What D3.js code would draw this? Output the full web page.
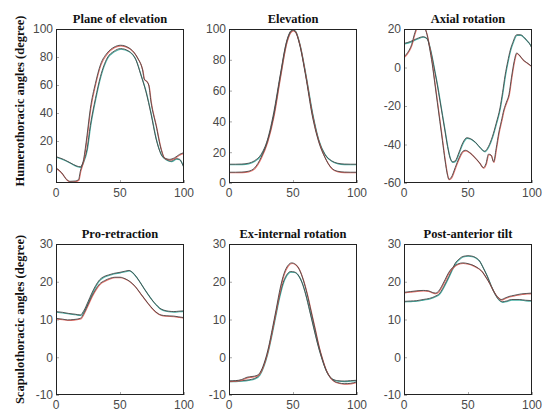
<!DOCTYPE html>
<html>
<head>
<meta charset="utf-8">
<script src="https://cdn.jsdelivr.net/npm/d3@7"></script>
<style>
  body { margin: 0; background: #fff; }
  .tick-label { font-family: "Liberation Sans", Arial, sans-serif; font-size: 12px; fill: #4a4a4a; }
  .panel-title, .row-label { font-family: "Liberation Serif", "Times New Roman", serif; font-weight: bold; fill: #111; }
</style>
</head>
<body>
<svg id="fig" width="543" height="416"></svg>
<script>
// Joint angles over the movement cycle: [percent of cycle, angle in degrees]

const titles = ["Plane of elevation", "Elevation", "Axial rotation",
                "Pro-retraction", "Ex-internal rotation", "Post-anterior tilt"];
const rowLabels = ["Humerothoracic angles (degree)", "Scapulothoracic angles (degree)"];
const xTicks = [0, 50, 100];
const yDomains = [[-10, 100], [0, 100], [-60, 20], [-10, 30], [-10, 30], [-10, 30]];
const yTicks = [[0, 20, 40, 60, 80, 100], [0, 20, 40, 60, 80, 100], [-60, -40, -20, 0, 20],
                [-10, 0, 10, 20, 30], [-10, 0, 10, 20, 30], [-10, 0, 10, 20, 30]];

// Humerothoracic
const planeRed = [[0,0.8],[4.5,-2.8],[8.4,-7.6],[11,-8.8],[15,-8.6],[17.6,-7.6],[19,-1.6],[21.6,6.9],[24.2,23.8],
  [26.8,43],[30.8,61.2],[34.7,74.4],[40,82.9],[45.3,87],[50.5,88.4],[57,86.5],[63.7,79.3],[67.6,70.8],[69,64],
  [70.5,63],[72.4,60],[74.2,47.9],[78.2,31],[82.1,14.1],[84.7,8],[88.7,6.9],[92.6,8],[96.6,10.5],[100,11.7]];
const planeGreen = [[0,8.8],[5.8,6.9],[11,4.5],[16.3,2.1],[19,1.6],[21.6,5.7],[24.2,14.1],[26.8,31],[30.8,50.3],
  [34.7,66],[40,79.3],[45.3,84.1],[50.5,86],[57,84.1],[62.4,78],[66.3,67.2],[70.3,55.1],[74.2,39.4],[78.2,21.4],
  [82.1,10.5],[86,6.9],[90,5.7],[94,7.4],[96.6,6.9],[98.5,4],[100,0.8]];

const elevRed = [[0,7],[5,7],[10,7.1],[15,7.6],[20,9.8],[25,16.5],[30,27],[35,44],[40,69],[45,91.5],[48,98],[50,99.2],
  [52,98],[55,90.5],[60,69],[65,44],[70,27],[75,16.5],[80,9.8],[85,7.6],[90,7.1],[95,7],[100,7]];
const elevGreen = [[0,12.2],[5,12.2],[10,12.3],[15,12.8],[20,14.5],[25,18.5],[30,28],[35,46],[40,70],[45,92],[48,98.5],
  [50,99.7],[52,98.5],[55,91],[60,70],[65,46],[70,28],[75,18.5],[80,14.5],[85,12.8],[90,12.3],[95,12.2],[100,12.2]];

const axialRed = [[0,5.5],[2,7],[4,9],[6,12],[8,17],[10,20.5],[13,21],[16,20.5],[18,17],[20,10],[22,2],[24,-8],[26,-18],
  [28,-28],[30,-38],[32,-48],[34,-56],[35,-58],[37,-57],[40,-52],[43,-47],[46,-43.5],[48,-43],[51,-44],[55,-46.5],
  [59,-49.5],[62,-52],[64,-50],[66,-45],[68,-45.5],[70,-49],[72,-42],[74,-34],[76,-28],[78,-22],[80,-18],[82,-14],
  [84,-5],[86,3],[88,7.5],[90,6.5],[93,4],[96,2.5],[100,0.5]];
const axialGreen = [[0,12.5],[5,13.5],[10,15],[15,16],[18,15],[20,11],[22,5],[24,-2],[26,-9],[28,-17],[30,-25],[32,-33],
  [34,-41],[36,-47],[38,-49],[40,-48.5],[43,-44],[46,-39],[49,-36.5],[52,-37],[56,-39],[60,-42],[63,-43.5],[66,-41],
  [69,-36],[72,-29],[75,-21],[77,-13],[79,-4],[81,3],[83,9],[85,13],[88,17],[91,17],[94,15.5],[96,14],[98,12.5],[100,10]];

// Scapulothoracic
const proRed = [[0,10.3],[5,10.1],[9,9.9],[14,10],[19,10.3],[22,11.8],[25,14],[28,16.2],[31,18],[34,19.4],[38,20.3],
  [42,20.9],[46,21.2],[50,21.2],[54,20.8],[58,20],[62,18.7],[66,16.9],[70,15.1],[74,13.4],[78,12],[82,11.2],[86,11],
  [92,10.9],[96,10.7],[100,10.5]];
const proGreen = [[0,12.1],[5,11.9],[10,11.6],[15,11.4],[19,11.2],[22,12.5],[25,14.7],[28,17],[31,19],[34,20.5],
  [37,21.3],[41,21.8],[45,22.2],[50,22.5],[54,22.8],[57,23],[60,22.4],[63,21.2],[66,19.7],[69,18.1],[72,16.6],
  [75,15.2],[78,14],[81,13],[84,12.5],[88,12.2],[92,12.1],[96,12.2],[100,12.3]];

const exRed = [[0,-6.3],[5,-6.2],[10,-5.9],[14,-5.3],[18,-5.1],[22,-4.8],[25,-3.6],[28,-1],[31,2.8],[34,7.8],[37,13],
  [40,18.3],[43,22.2],[46,24.3],[49,25],[52,24.6],[55,23.2],[58,20.5],[61,16.8],[64,12.3],[67,7.8],[70,3.2],[73,-0.5],
  [76,-3.5],[79,-5.3],[82,-6.3],[86,-6.8],[90,-7],[95,-6.9],[100,-6.5]];
const exGreen = [[0,-6.3],[5,-6.3],[10,-6.2],[15,-6],[20,-5.6],[24,-4.5],[27,-2.3],[30,1],[33,5.5],[36,10.5],[39,15.5],
  [42,19.5],[45,21.8],[48,22.7],[51,22.6],[54,21.8],[57,19.8],[60,16.5],[63,12.3],[66,8],[69,3.8],[72,0.2],[75,-2.8],
  [78,-4.8],[81,-5.8],[85,-6.2],[90,-6.3],[95,-6.2],[100,-6.1]];

const tiltRed = [[0,17.2],[5,17.4],[10,17.6],[15,17.7],[19,17.6],[22,17.2],[24.5,17],[27,17.5],[30,19.2],[32,20.5],
  [35,22.5],[38.8,24],[42,24.7],[46,25],[50,24.8],[53,24.5],[57,23.8],[61,22.7],[64,21.2],[67,19.5],[70,17.5],
  [73,16],[76,15.3],[79,15.7],[82,16.1],[86,16.4],[92,16.8],[96,16.9],[100,17]];
const tiltGreen = [[0,14.8],[5,14.9],[10,15],[15,15.3],[20,15.6],[24,16.1],[28,17],[31,18.7],[35,21.4],[38,23.6],
  [40,24.9],[43,26],[46,26.7],[50,26.9],[53,26.8],[56,26.4],[59,25.5],[62,23.6],[65,21.5],[68,19],[71,16.8],[74,15.3],
  [77,14.7],[80,14.9],[84,15.3],[90,15.3],[95,15.1],[100,15]];

const redSeries = [planeRed, elevRed, axialRed, proRed, exRed, tiltRed];
const greenSeries = [planeGreen, elevGreen, axialGreen, proGreen, exGreen, tiltGreen];

// Layout
const colLeft = [56, 229, 404];
const panelW = 128;
const rowTop = [29, 244];
const rowBottom = [183, 395];

const svg = d3.select("#fig");
svg.append("rect").attr("width", 543).attr("height", 416).attr("fill", "#fff");

const colors = { red: "#e0574f", green: "#2aa597", dark: "#474747" };

titles.forEach((title, i) => {
  const row = Math.floor(i / 3), col = i % 3;
  const x0 = colLeft[col], x1 = x0 + panelW;
  const y0 = rowTop[row], y1 = rowBottom[row];

  const x = d3.scaleLinear().domain([0, 100]).range([x0, x1]);
  const y = d3.scaleLinear().domain(yDomains[i]).range([y1, y0]);

  const g = svg.append("g");
  const clipId = "clip" + i;
  g.append("clipPath").attr("id", clipId)
    .append("rect").attr("x", x0).attr("y", y0).attr("width", x1 - x0).attr("height", y1 - y0);

  // inner tick marks
  const yAxis = d3.axisLeft(y).tickValues(yTicks[i]).tickSize(-3).tickFormat("");
  const xAxis = d3.axisBottom(x).tickValues(xTicks).tickSize(-3).tickFormat("");
  g.append("g").attr("transform", `translate(${x0},0)`).call(yAxis)
    .call(s => { s.select(".domain").remove(); s.selectAll("line").attr("stroke", "#aaa"); });
  g.append("g").attr("transform", `translate(0,${y1})`).call(xAxis)
    .call(s => { s.select(".domain").remove(); s.selectAll("line").attr("stroke", "#aaa"); });

  // tick labels
  g.selectAll(".ylab").data(yTicks[i]).join("text")
    .attr("class", "tick-label")
    .attr("x", x0 - 3).attr("y", d => y(d)).attr("dy", "0.36em")
    .attr("text-anchor", "end").text(d => d);
  g.selectAll(".xlab").data(xTicks).join("text")
    .attr("class", "tick-label")
    .attr("x", d => x(d)).attr("y", y1 + 10).attr("dy", "0.36em")
    .attr("text-anchor", "middle").text(d => d);

  const line = d3.line().x(d => x(d[0])).y(d => y(d[1])).curve(d3.curveMonotoneX);
  const plot = g.append("g").attr("clip-path", `url(#${clipId})`);

  // coloured trace with a thin dark trace laid over it
  [[greenSeries[i], colors.green], [redSeries[i], colors.red]].forEach(([data, c]) => {
    plot.append("path").datum(data).attr("d", line)
      .attr("fill", "none").attr("stroke", c).attr("stroke-width", 1.1)
      .attr("stroke-opacity", 0.85)
      .attr("transform", "translate(0.4,0.6)");
    plot.append("path").datum(data).attr("d", line)
      .attr("fill", "none").attr("stroke", colors.dark).attr("stroke-width", 0.9);
  });

  // axes box
  g.append("rect").attr("x", x0 + 0.5).attr("y", y0 + 0.5)
    .attr("width", x1 - x0 - 1).attr("height", y1 - y0 - 1)
    .attr("fill", "none").attr("stroke", "#222").attr("stroke-width", 1);

  g.append("text").attr("class", "panel-title")
    .attr("x", (x0 + x1) / 2).attr("y", y0 - 6)
    .attr("text-anchor", "middle").attr("font-size", 12.5).text(title);
});

rowLabels.forEach((label, r) => {
  const cy = (rowTop[r] + rowBottom[r]) / 2 + (r === 0 ? -5 : 0);
  svg.append("text").attr("class", "row-label")
    .attr("transform", `translate(24,${cy}) rotate(-90)`)
    .attr("text-anchor", "middle").attr("font-size", 12.5).text(label);
});
</script>
</body>
</html>
